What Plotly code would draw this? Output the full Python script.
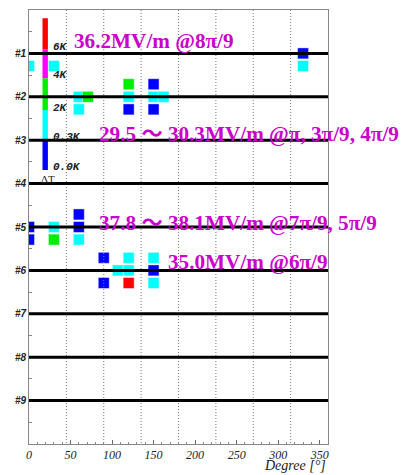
import plotly.graph_objects as go

# ---- data ----
cells = [1, 2, 3, 4, 5, 6, 7, 8, 9]
cell_labels = ["#1", "#2", "#3", "#4", "#5", "#6", "#7", "#8", "#9"]
x_ticks = [0, 50, 100, 150, 200, 250, 300, 350]
grid_angles = [45, 90, 135, 180, 225, 270, 315]

# temperature-rise spots: azimuth [deg], cell, position (-1 above, 0 equator, +1 below), level
sq_angle = [0, 30, 330, 330,
            60, 60, 71, 120, 120, 120, 150, 150, 162, 150,
            0, 0, 30, 30, 60, 60, 60,
            90, 90, 120, 107, 120, 120, 150, 150, 150]
sq_cell = [1, 1, 1, 1,
           2, 2, 2, 2, 2, 2, 2, 2, 2, 2,
           5, 5, 5, 5, 5, 5, 5,
           6, 6, 6, 6, 6, 6, 6, 6, 6]
sq_pos = [1, 1, 0, 1,
          0, 1, 0, -1, 0, 1, -1, 0, 0, 1,
          0, 1, 0, 1, -1, 0, 1,
          -1, 1, -1, 0, 0, 1, -1, 0, 1]
sq_level = ["cyan", "cyan", "blue", "cyan",
            "cyan", "cyan", "green", "green", "cyan", "blue", "blue", "cyan", "cyan", "blue",
            "blue", "blue", "cyan", "green", "blue", "blue", "cyan",
            "blue", "blue", "cyan", "cyan", "cyan", "red", "cyan", "blue", "cyan"]
level_colors = {"blue": "#0000ff", "cyan": "#00ffff", "green": "#00ee00",
                "magenta": "#ff00ff", "red": "#ff0000"}
pos_offset = 0.29

# colour scale bar (ΔT)
cbar_levels = ["red", "magenta", "green", "cyan", "blue"]
cbar_top = [0.19, 0.906, 1.574, 2.304, 2.995]
cbar_bottom = [0.906, 1.574, 2.304, 2.995, 3.687]
cbar_x = 19.5
cbar_label_text = ["6K", "4K", "2K", "0.3K", "0.0K"]
cbar_label_y = [0.85, 1.50, 2.25, 2.92, 3.61]

# field annotations
TILDE = "<span style='font-family:Noto Sans CJK JP'>～</span>"
note_text = ["36.2MV/m @8π/9",
             "29.5 " + TILDE + " 30.3MV/m @π, 3π/9, 4π/9",
             "37.8 " + TILDE + " 38.1MV/m @7π/9, 5π/9",
             "35.0MV/m @6π/9"]
note_x = [51.8, 81.5, 82.3, 165.0]
note_y = [0.72, 2.81, 4.84, 5.81]

# ---- figure ----
fig = go.Figure()

sq_y = [c + p * pos_offset for c, p in zip(sq_cell, sq_pos)]
fig.add_trace(go.Scatter(
    x=sq_angle, y=sq_y, mode="markers",
    marker=dict(symbol="square", size=11,
                color=[level_colors[l] for l in sq_level],
                line=dict(width=1, color="rgba(255,255,255,0.45)")),
    hoverinfo="skip", showlegend=False))

# dotted vertical grid lines (on top of spots)
gx, gy = [], []
for a in grid_angles:
    gx += [a, a, None]
    gy += [0, 10, None]
fig.add_trace(go.Scatter(x=gx, y=gy, mode="lines",
                         line=dict(color="#7a7a7a", width=1, dash="1px,2px"),
                         hoverinfo="skip", showlegend=False))

# colour scale bar
fig.add_trace(go.Bar(
    x=[cbar_x] * len(cbar_levels),
    y=[b - t for t, b in zip(cbar_top, cbar_bottom)],
    base=cbar_top, width=6.5,
    marker=dict(color=[level_colors[l] for l in cbar_levels], line=dict(width=0)),
    hoverinfo="skip", showlegend=False))

# thick cell lines
lx, ly = [], []
for c in cells:
    lx += [0, 360, None]
    ly += [c, c, None]
fig.add_trace(go.Scatter(x=lx, y=ly, mode="lines",
                         line=dict(color="black", width=3),
                         hoverinfo="skip", showlegend=False))

annotations = []
for t, yy in zip(cbar_label_text, cbar_label_y):
    annotations.append(dict(x=26, y=yy, text=t, showarrow=False, xanchor="left",
                            yanchor="middle",
                            font=dict(family="Liberation Mono", size=11, color="#222",
                                      style="italic", weight="bold")))
annotations.append(dict(x=23, y=3.89, text="ΔT", showarrow=False, xanchor="center",
                        yanchor="middle",
                        font=dict(family="Liberation Serif", size=11, color="#222")))
for t, xx, yy in zip(note_text, note_x, note_y):
    annotations.append(dict(x=xx, y=yy, text=t, showarrow=False, xanchor="left",
                            yanchor="middle",
                            font=dict(family="Liberation Serif", size=21.2, color="#cc00cc",
                                      weight="bold")))
annotations.append(dict(x=1, y=-31 / 434, xref="paper", yref="paper", text="Degree [°]",
                        showarrow=False, xanchor="right", yanchor="bottom",
                        font=dict(family="Liberation Serif", size=14, color="#222",
                                  style="italic")))

# the page body adds an 8px margin, so the figure is sized to fit the window
fig.update_layout(
    width=402, height=467,
    margin=dict(l=21, r=82, t=2, b=31),
    plot_bgcolor="white", paper_bgcolor="white",
    barmode="overlay", showlegend=False,
    annotations=annotations,
    xaxis=dict(range=[0, 360], tickvals=x_ticks, ticks="inside", ticklen=4,
               tickcolor="#666", showgrid=False, zeroline=False,
               showline=True, linecolor="#888", linewidth=1, mirror=True,
               minor=dict(dtick=10, ticks="inside", ticklen=2, tickcolor="#888"),
               tickfont=dict(family="Liberation Serif", size=12, color="#222",
                             style="italic")),
    yaxis=dict(range=[10, 0], tickvals=cells, ticktext=cell_labels, ticks="",
               showgrid=False, zeroline=False,
               showline=True, linecolor="#888", linewidth=1, mirror=True,
               minor=dict(tickvals=[0.5 + i for i in range(10)], ticks="inside",
                          ticklen=3, tickcolor="#888"),
               tickfont=dict(family="Liberation Sans", size=10, color="#222",
                             style="italic", weight="bold")),
)

fig.write_html("out.html")
